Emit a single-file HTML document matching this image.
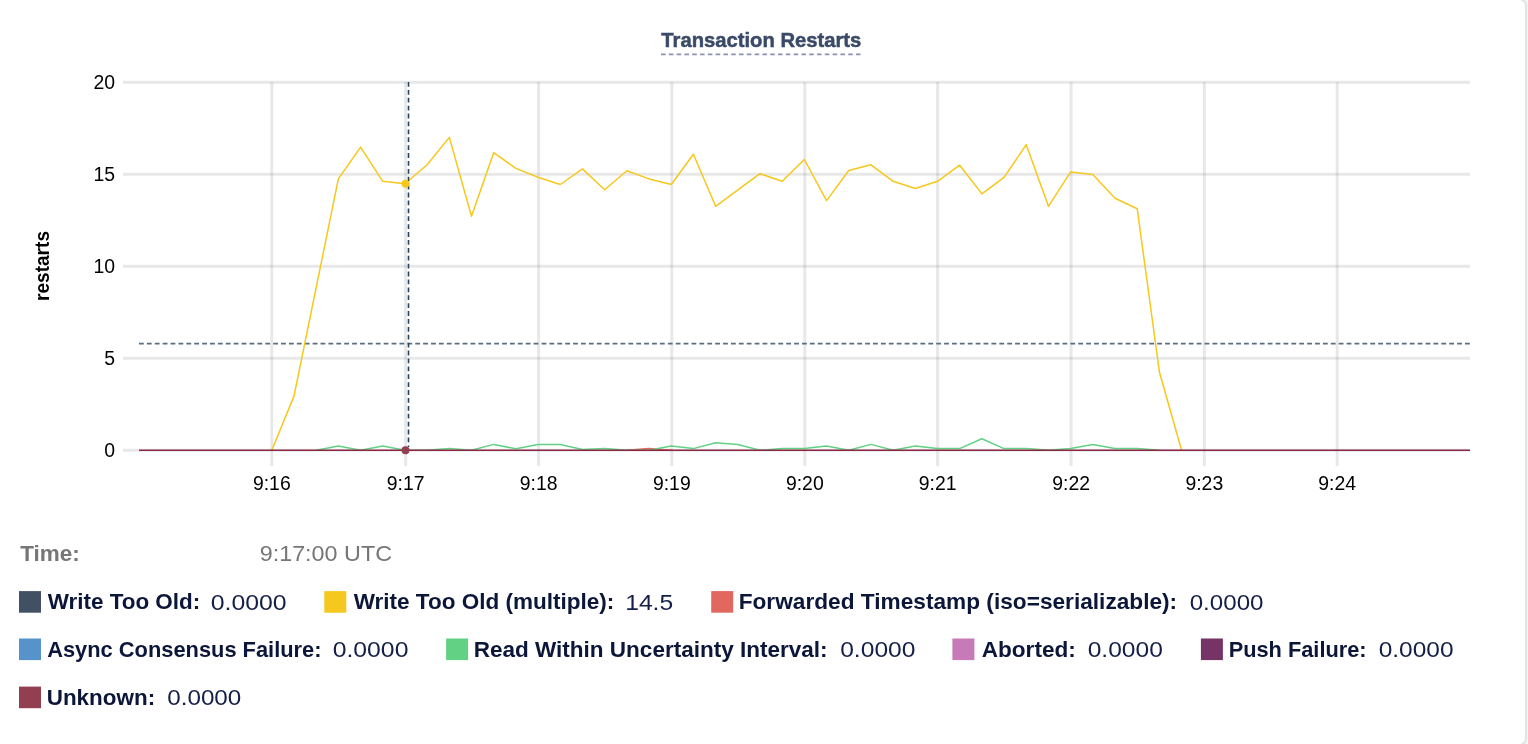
<!DOCTYPE html>
<html><head><meta charset="utf-8"><style>
html,body{margin:0;padding:0;width:1528px;height:744px;overflow:hidden;background:#f2f3f6;}
.card{position:absolute;left:-10px;top:-2px;width:1532.7px;height:744px;background:#fff;border:2px solid #e3e3e3;border-radius:8px;box-sizing:content-box;}
svg{position:absolute;left:0;top:0;font-family:"Liberation Sans", sans-serif;will-change:transform;}
</style></head><body>
<div class="card"></div>
<svg width="1528" height="744" viewBox="0 0 1528 744">
<line x1="123" y1="82.20" x2="1470" y2="82.20" stroke="rgba(0,0,0,0.09)" stroke-width="3"/>
<line x1="123" y1="174.23" x2="1470" y2="174.23" stroke="rgba(0,0,0,0.09)" stroke-width="3"/>
<line x1="123" y1="266.25" x2="1470" y2="266.25" stroke="rgba(0,0,0,0.09)" stroke-width="3"/>
<line x1="123" y1="358.28" x2="1470" y2="358.28" stroke="rgba(0,0,0,0.09)" stroke-width="3"/>
<line x1="123" y1="450.30" x2="1470" y2="450.30" stroke="rgba(0,0,0,0.09)" stroke-width="3"/>
<line x1="271.80" y1="82" x2="271.80" y2="466" stroke="rgba(0,0,0,0.09)" stroke-width="3"/>
<line x1="405.60" y1="82" x2="405.60" y2="466" stroke="rgba(0,0,0,0.09)" stroke-width="3"/>
<line x1="538.60" y1="82" x2="538.60" y2="466" stroke="rgba(0,0,0,0.09)" stroke-width="3"/>
<line x1="671.80" y1="82" x2="671.80" y2="466" stroke="rgba(0,0,0,0.09)" stroke-width="3"/>
<line x1="804.80" y1="82" x2="804.80" y2="466" stroke="rgba(0,0,0,0.09)" stroke-width="3"/>
<line x1="937.60" y1="82" x2="937.60" y2="466" stroke="rgba(0,0,0,0.09)" stroke-width="3"/>
<line x1="1071.10" y1="82" x2="1071.10" y2="466" stroke="rgba(0,0,0,0.09)" stroke-width="3"/>
<line x1="1204.30" y1="82" x2="1204.30" y2="466" stroke="rgba(0,0,0,0.09)" stroke-width="3"/>
<line x1="1337.20" y1="82" x2="1337.20" y2="466" stroke="rgba(0,0,0,0.09)" stroke-width="3"/>
<text x="115" y="88.80" text-anchor="end" font-size="19.4" fill="#000">20</text>
<text x="115" y="180.83" text-anchor="end" font-size="19.4" fill="#000">15</text>
<text x="115" y="272.85" text-anchor="end" font-size="19.4" fill="#000">10</text>
<text x="115" y="364.88" text-anchor="end" font-size="19.4" fill="#000">5</text>
<text x="115" y="456.90" text-anchor="end" font-size="19.4" fill="#000">0</text>
<text x="271.80" y="489.6" text-anchor="middle" font-size="19.4" fill="#000">9:16</text>
<text x="405.60" y="489.6" text-anchor="middle" font-size="19.4" fill="#000">9:17</text>
<text x="538.60" y="489.6" text-anchor="middle" font-size="19.4" fill="#000">9:18</text>
<text x="671.80" y="489.6" text-anchor="middle" font-size="19.4" fill="#000">9:19</text>
<text x="804.80" y="489.6" text-anchor="middle" font-size="19.4" fill="#000">9:20</text>
<text x="937.60" y="489.6" text-anchor="middle" font-size="19.4" fill="#000">9:21</text>
<text x="1071.10" y="489.6" text-anchor="middle" font-size="19.4" fill="#000">9:22</text>
<text x="1204.30" y="489.6" text-anchor="middle" font-size="19.4" fill="#000">9:23</text>
<text x="1337.20" y="489.6" text-anchor="middle" font-size="19.4" fill="#000">9:24</text>
<text x="0" y="0" transform="translate(49.2,266) rotate(-90)" text-anchor="middle" font-size="19.6" font-weight="700" fill="#000" textLength="70" lengthAdjust="spacingAndGlyphs">restarts</text>
<line x1="139" y1="343.6" x2="1470" y2="343.6" stroke="#5a6e80" stroke-width="1.8" stroke-dasharray="4.8 3.093"/>
<path d="M271.80,450.30 L293.99,396.10 L338.37,178.90 L360.56,147.10 L382.75,181.30 L404.94,183.70 L427.13,164.80 L449.32,137.40 L471.51,216.30 L493.70,152.70 L515.89,168.40 L538.08,177.30 L560.27,184.50 L582.46,168.90 L604.65,189.80 L626.84,170.80 L649.03,178.90 L671.22,184.50 L693.41,154.20 L715.60,206.30 L759.98,173.70 L782.17,181.30 L804.36,159.50 L826.55,200.60 L848.74,170.50 L870.93,164.80 L893.12,181.30 L915.31,188.50 L937.50,181.30 L959.69,165.20 L981.88,193.90 L1004.07,177.30 L1026.26,144.70 L1048.45,206.30 L1070.64,171.90 L1092.83,174.40 L1115.02,198.20 L1137.21,208.70 L1159.40,372.00 L1181.59,450.30" fill="none" stroke="#f6c71c" stroke-width="1.5" stroke-linejoin="round"/>
<path d="M626.84,450.30 L649.03,448.60 L671.22,450.30" fill="none" stroke="#e2685f" stroke-width="1.5" stroke-linejoin="round"/>
<path d="M316.18,450.30 L338.37,445.90 L360.56,450.30 L382.75,445.90 L404.94,450.30 L427.13,450.30 L449.32,448.60 L471.51,450.30 L493.70,444.40 L515.89,448.80 L538.08,444.60 L560.27,444.60 L582.46,449.60 L604.65,448.60 L626.84,450.30 L649.03,450.30 L671.22,445.90 L693.41,448.60 L715.60,442.70 L737.79,444.60 L759.98,450.30 L782.17,448.60 L804.36,448.60 L826.55,445.90 L848.74,450.30 L870.93,444.40 L893.12,450.30 L915.31,445.90 L937.50,448.60 L959.69,448.60 L981.88,438.70 L1004.07,448.60 L1026.26,448.60 L1048.45,450.30 L1070.64,448.60 L1092.83,444.40 L1115.02,448.60 L1137.21,448.60 L1159.40,450.30" fill="none" stroke="#63d184" stroke-width="1.5" stroke-linejoin="round"/>
<line x1="139" y1="450.3" x2="1470" y2="450.3" stroke="#8c2745" stroke-width="1.5"/>
<line x1="408.5" y1="82" x2="408.5" y2="447" stroke="#22445e" stroke-width="1.6" stroke-dasharray="4.8 3.1"/>
<circle cx="405.5" cy="183.7" r="4" fill="#f6c71c"/>
<circle cx="405.5" cy="450.3" r="4" fill="#913f51"/>
<text x="761.3" y="46.9" text-anchor="middle" font-size="21" font-weight="700" fill="#3a4a68" stroke="#3a4a68" stroke-width="0.5" textLength="200" lengthAdjust="spacingAndGlyphs">Transaction Restarts</text>
<line x1="661" y1="54.4" x2="862" y2="54.4" stroke="#8b91b2" stroke-width="1.8" stroke-dasharray="4.6 3.2"/>
<rect x="19.0" y="591.1" width="22" height="21.6" fill="#425066"/>
<rect x="324.3" y="591.1" width="22" height="21.6" fill="#f6c71c"/>
<rect x="711.2" y="591.1" width="22" height="21.6" fill="#e2685f"/>
<rect x="19.0" y="638.5" width="22" height="21.6" fill="#5593ca"/>
<rect x="446.1" y="638.5" width="22" height="21.6" fill="#63d184"/>
<rect x="952.4" y="638.5" width="22" height="21.6" fill="#c77ab8"/>
<rect x="1200.9" y="638.5" width="22" height="21.6" fill="#753366"/>
<rect x="19.0" y="686.6" width="22" height="21.6" fill="#913f51"/>
<text x="20.20" y="561.2" font-size="22.4" font-weight="700" fill="#767676" stroke="#767676" stroke-width="0" textLength="59.53" lengthAdjust="spacingAndGlyphs">Time:</text>
<text x="259.70" y="561.4" font-size="22.8" font-weight="400" fill="#767676" textLength="132.31" lengthAdjust="spacingAndGlyphs">9:17:00 UTC</text>
<text x="47.70" y="609.3" font-size="22.4" font-weight="700" fill="#0c1638" stroke="#0c1638" stroke-width="0" textLength="152.57" lengthAdjust="spacingAndGlyphs">Write Too Old:</text>
<text x="210.70" y="609.5" font-size="22.8" font-weight="400" fill="#141f47" textLength="75.98" lengthAdjust="spacingAndGlyphs">0.0000</text>
<text x="353.70" y="609.3" font-size="22.4" font-weight="700" fill="#0c1638" stroke="#0c1638" stroke-width="0" textLength="260.54" lengthAdjust="spacingAndGlyphs">Write Too Old (multiple):</text>
<text x="625.20" y="609.5" font-size="22.8" font-weight="400" fill="#141f47" textLength="47.99" lengthAdjust="spacingAndGlyphs">14.5</text>
<text x="738.70" y="609.3" font-size="22.4" font-weight="700" fill="#0c1638" stroke="#0c1638" stroke-width="0" textLength="438.49" lengthAdjust="spacingAndGlyphs">Forwarded Timestamp (iso=serializable):</text>
<text x="1189.70" y="609.5" font-size="22.8" font-weight="400" fill="#141f47" textLength="73.85" lengthAdjust="spacingAndGlyphs">0.0000</text>
<text x="47.20" y="656.7" font-size="22.4" font-weight="700" fill="#0c1638" stroke="#0c1638" stroke-width="0" textLength="274.34" lengthAdjust="spacingAndGlyphs">Async Consensus Failure:</text>
<text x="332.70" y="656.9" font-size="22.8" font-weight="400" fill="#141f47" textLength="75.73" lengthAdjust="spacingAndGlyphs">0.0000</text>
<text x="473.70" y="656.7" font-size="22.4" font-weight="700" fill="#0c1638" stroke="#0c1638" stroke-width="0" textLength="353.92" lengthAdjust="spacingAndGlyphs">Read Within Uncertainty Interval:</text>
<text x="840.20" y="656.9" font-size="22.8" font-weight="400" fill="#141f47" textLength="75.28" lengthAdjust="spacingAndGlyphs">0.0000</text>
<text x="981.70" y="656.7" font-size="22.4" font-weight="700" fill="#0c1638" stroke="#0c1638" stroke-width="0" textLength="94.12" lengthAdjust="spacingAndGlyphs">Aborted:</text>
<text x="1087.70" y="656.9" font-size="22.8" font-weight="400" fill="#141f47" textLength="75.16" lengthAdjust="spacingAndGlyphs">0.0000</text>
<text x="1228.70" y="656.7" font-size="22.4" font-weight="700" fill="#0c1638" stroke="#0c1638" stroke-width="0" textLength="137.92" lengthAdjust="spacingAndGlyphs">Push Failure:</text>
<text x="1378.70" y="656.9" font-size="22.8" font-weight="400" fill="#141f47" textLength="74.87" lengthAdjust="spacingAndGlyphs">0.0000</text>
<text x="46.70" y="704.8" font-size="22.4" font-weight="700" fill="#0c1638" stroke="#0c1638" stroke-width="0" textLength="108.43" lengthAdjust="spacingAndGlyphs">Unknown:</text>
<text x="167.20" y="705.0" font-size="22.8" font-weight="400" fill="#141f47" textLength="74.13" lengthAdjust="spacingAndGlyphs">0.0000</text>
</svg>
</body></html>
